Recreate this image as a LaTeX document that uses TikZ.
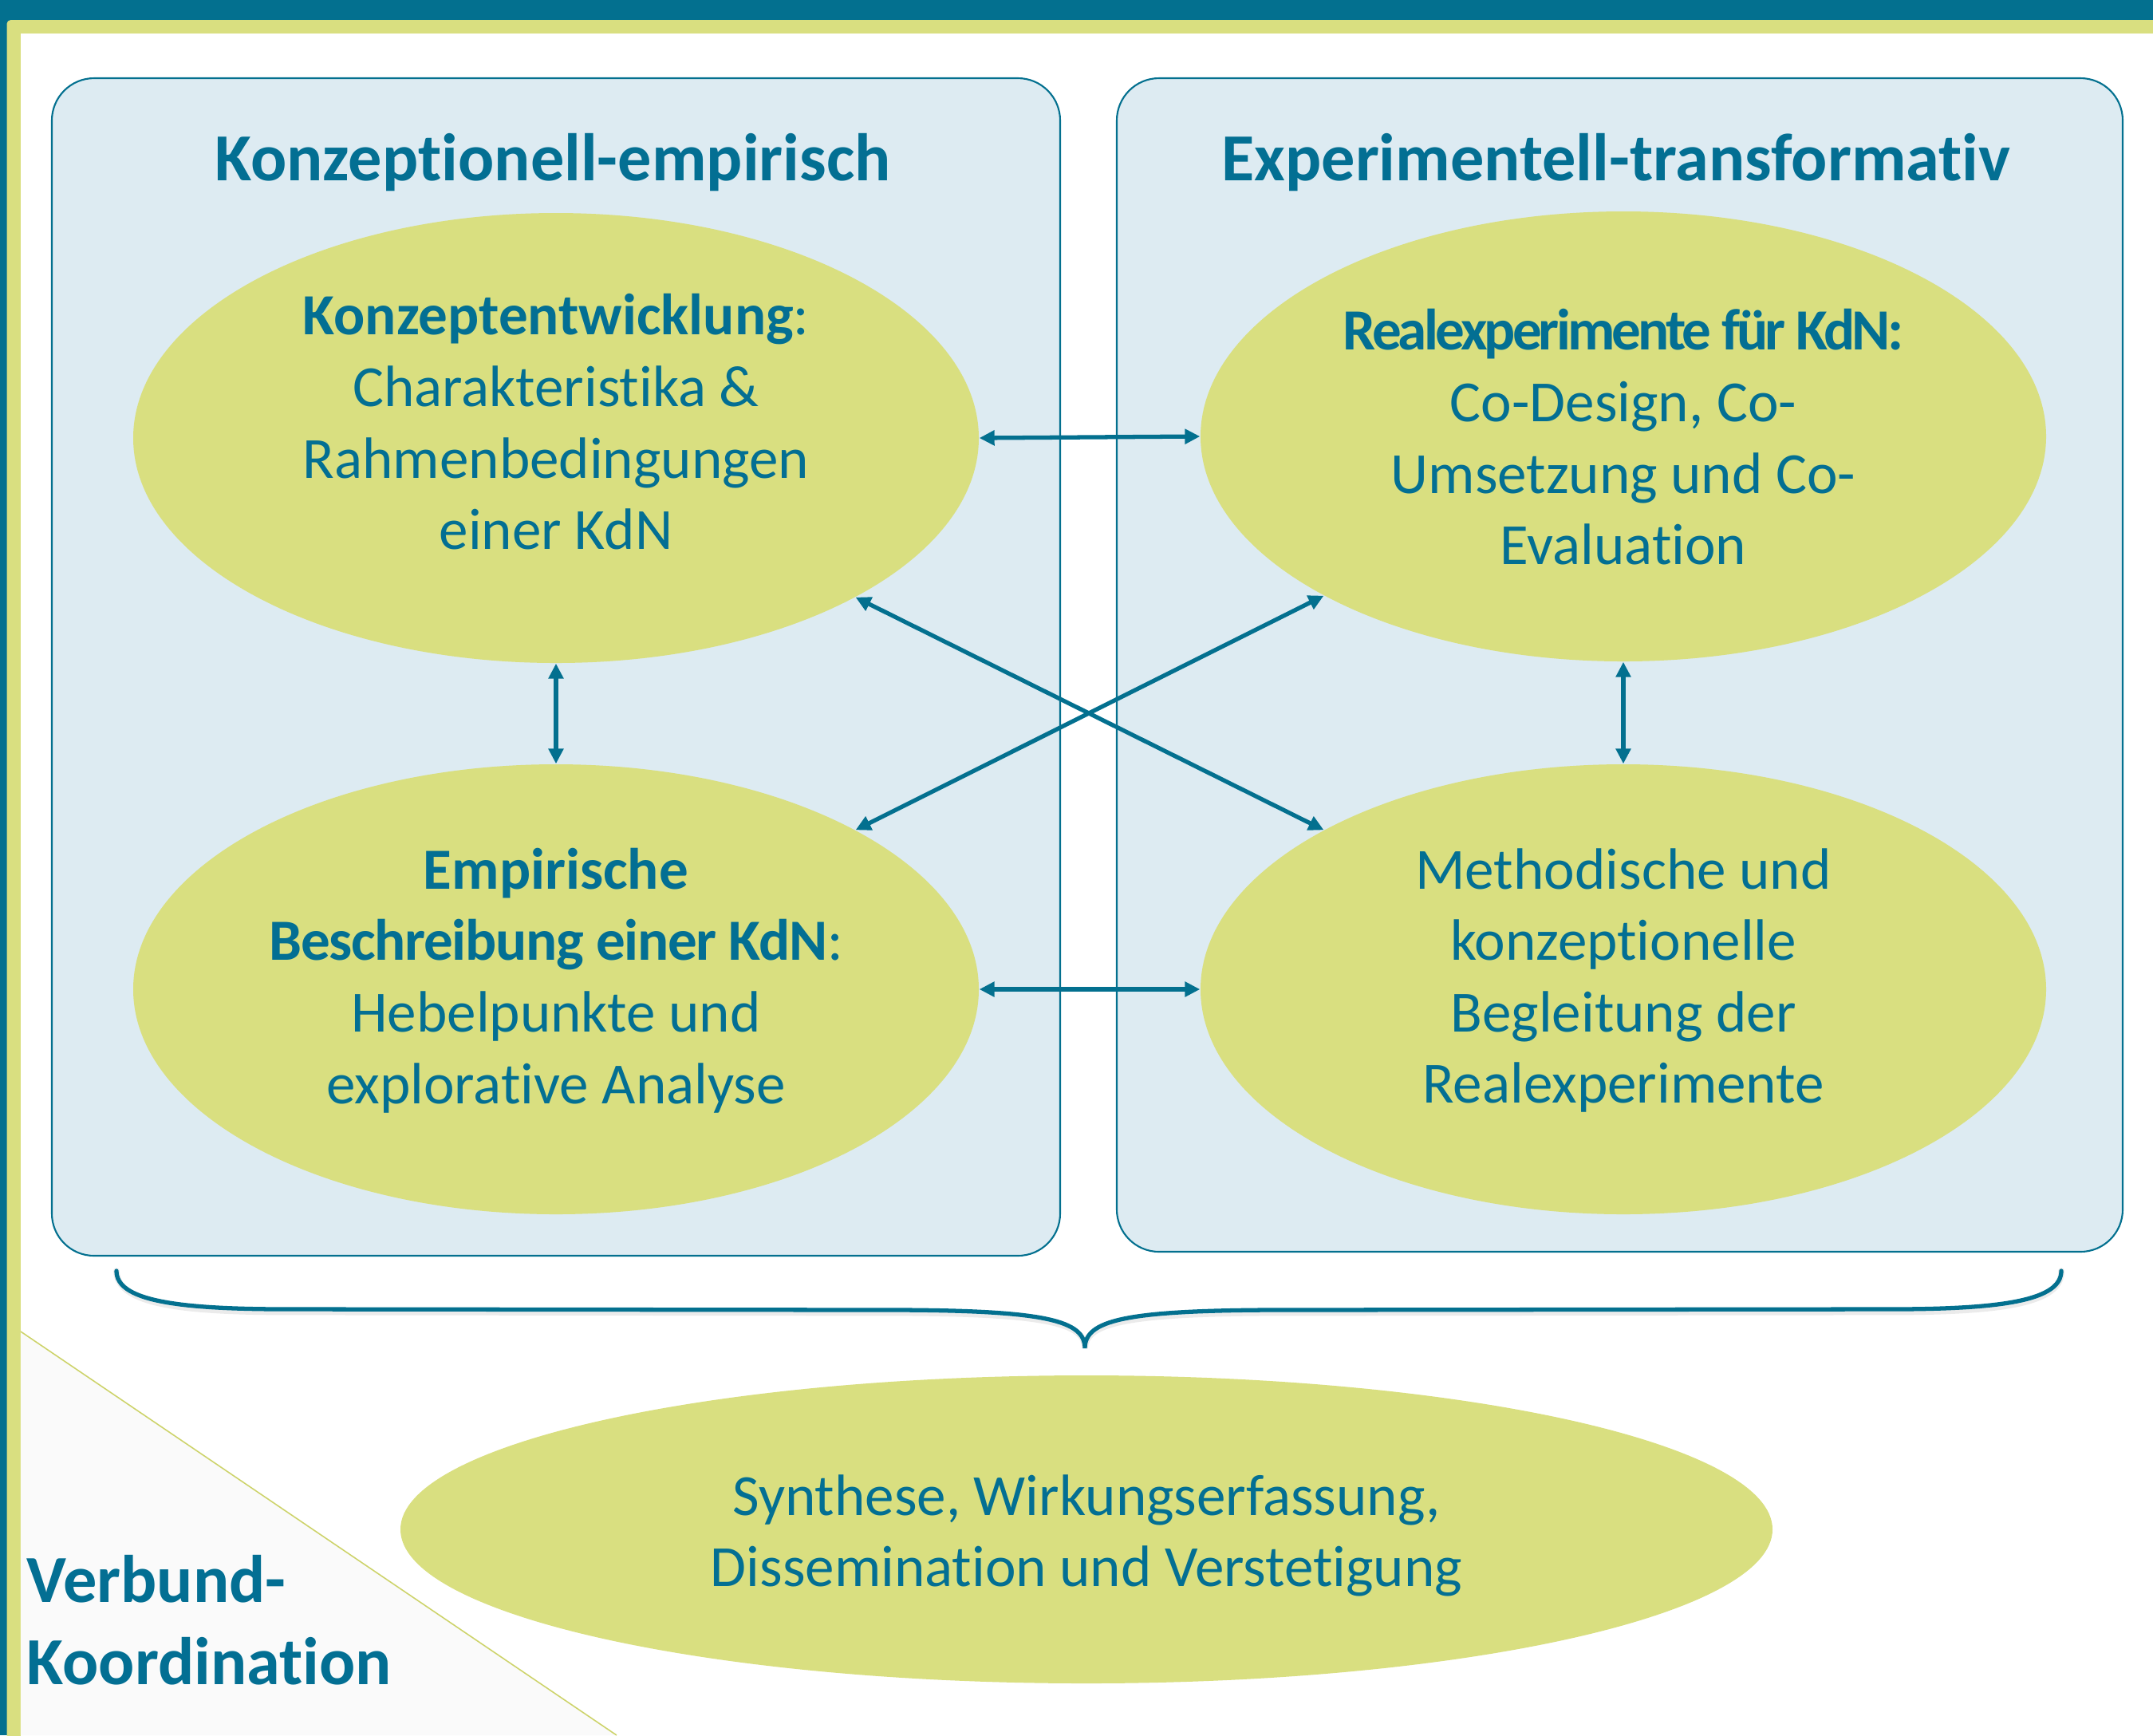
\documentclass[tikz,border=0pt]{standalone}
\usepackage{fontspec}
\setmainfont{Carlito}[RawFeature={-liga;-clig;-calt;-dlig}]
\usetikzlibrary{arrows.meta,shapes.geometric}
\definecolor{kblue}{HTML}{03708F}
\definecolor{kgreen}{HTML}{D9DF80}
\definecolor{kpanel}{HTML}{DDEBF2}
\definecolor{ktext}{HTML}{036F93}
\definecolor{ktri}{HTML}{FAFAFA}
\definecolor{ktriline}{HTML}{CDD36A}
\begin{document}
\begin{tikzpicture}[
  panel/.style={draw=kblue, line width=0.6pt, fill=kpanel, rounded corners=0.53cm},
  bubble/.style={ellipse, fill=kgreen, inner sep=0pt, minimum width=10.6cm, minimum height=5.64cm},
  body/.style={text=ktext, align=center, font=\fontsize{20.8}{25.5}\selectfont, inner sep=0pt},
  head/.style={text=ktext, font=\fontsize{24}{29.3}\selectfont\bfseries, inner sep=0pt},
  link/.style={draw=kblue, line width=1.5pt, {Triangle[length=5.4pt,width=5.2pt]}-{Triangle[length=5.4pt,width=5.2pt]}},
  bracestyle/.style={draw=kblue, line width=1.5pt, line cap=round},
]
\useasboundingbox (0,0) rectangle (26.99,-21.75);
% frame
\begin{scope}
  \clip (0,0) rectangle (26.99,-21.75);
  \fill[kblue] (0,0) rectangle (26.99,-21.75);
  \fill[kgreen, rounded corners=0.05cm] (0.085,-0.25) rectangle (27.5,-22.5);
  \fill[white] (0.26,-0.42) rectangle (27.5,-22.5);
\end{scope}
% corner triangle
\fill[ktri] (0.26,-16.69) -- (7.73,-21.75) -- (0.26,-21.75) -- cycle;
\draw[ktriline, line width=0.45pt] (0.26,-16.69) -- (7.73,-21.75);

% panels
\draw[panel] (0.65,-0.98) rectangle (13.29,-15.74);
\draw[panel] (14.00,-0.98) rectangle (26.61,-15.69);
\node[head] (tl) at (6.93,-2.04) {Konzeptionell-empirisch};
\node[head] (tr) at (20.26,-2.04) {Experimentell-transformativ};

% ellipses
\node[bubble] (A) at (6.97,-5.49) {};
\node[bubble] (B) at (20.35,-5.47) {};
\node[bubble] (C) at (6.97,-12.40) {};
\node[bubble] (D) at (20.35,-12.40) {};
\node[bubble, minimum width=17.2cm, minimum height=3.86cm] (E) at (13.62,-19.17) {};

\node[body] (At) at (6.97,-5.29) {\textbf{Konzeptentwicklung}:\\Charakteristika \&\\Rahmenbedingungen\\einer KdN};
\node[body] (Bt) at (20.35,-5.48) {{\bfseries\addfontfeatures{LetterSpace=-5.3}Realexperimente für KdN:}\\Co-Design, Co-\\Umsetzung und Co-\\Evaluation};
\node[body] (Ct) at (6.97,-12.29) {\textbf{Empirische}\\{\bfseries\addfontfeatures{LetterSpace=-1.8}Beschreibung einer KdN}:\\Hebelpunkte und\\explorative Analyse};
\node[body] (Dt) at (20.35,-12.29) {Methodische und\\konzeptionelle\\Begleitung der\\Realexperimente};
\node[body] (Et) at (13.62,-19.25) {Synthese, Wirkungserfassung,\\Dissemination und Verstetigung};

\node[head, anchor=west, align=left] (vk) at (0.33,-20.31) {Verbund-\\Koordination};

% connectors
\draw[link] (A.east) -- (B.west);
\draw[link] (C.east) -- (D.west);
\draw[link] (A.south) -- (C.north);
\draw[link] (B.south) -- (D.north);
\draw[link] (A.-28) -- (D.152);
\draw[link] (B.-152) -- (C.28);

% brace
\coordinate (bl) at (1.46,-15.93);
\coordinate (br) at (25.84,-15.93);
\coordinate (btip) at (13.60,-16.90);
\draw[draw=black, opacity=0.08, line width=2.2pt, line cap=round, shift={(0.01,-0.035)}]
  (bl) .. controls (1.46,-16.30) and (2.2,-16.41) .. (3.6,-16.41) -- (11.3,-16.42)
  .. controls (13.1,-16.43) and (13.60,-16.55) .. (btip)
  .. controls (13.60,-16.55) and (14.1,-16.43) .. (15.9,-16.42) -- (23.7,-16.41)
  .. controls (25.1,-16.41) and (25.84,-16.30) .. (br);
\draw[bracestyle]
  (bl) .. controls (1.46,-16.30) and (2.2,-16.41) .. (3.6,-16.41) -- (11.3,-16.42)
  .. controls (13.1,-16.43) and (13.60,-16.55) .. (btip)
  .. controls (13.60,-16.55) and (14.1,-16.43) .. (15.9,-16.42) -- (23.7,-16.41)
  .. controls (25.1,-16.41) and (25.84,-16.30) .. (br);
\end{tikzpicture}
\end{document}
